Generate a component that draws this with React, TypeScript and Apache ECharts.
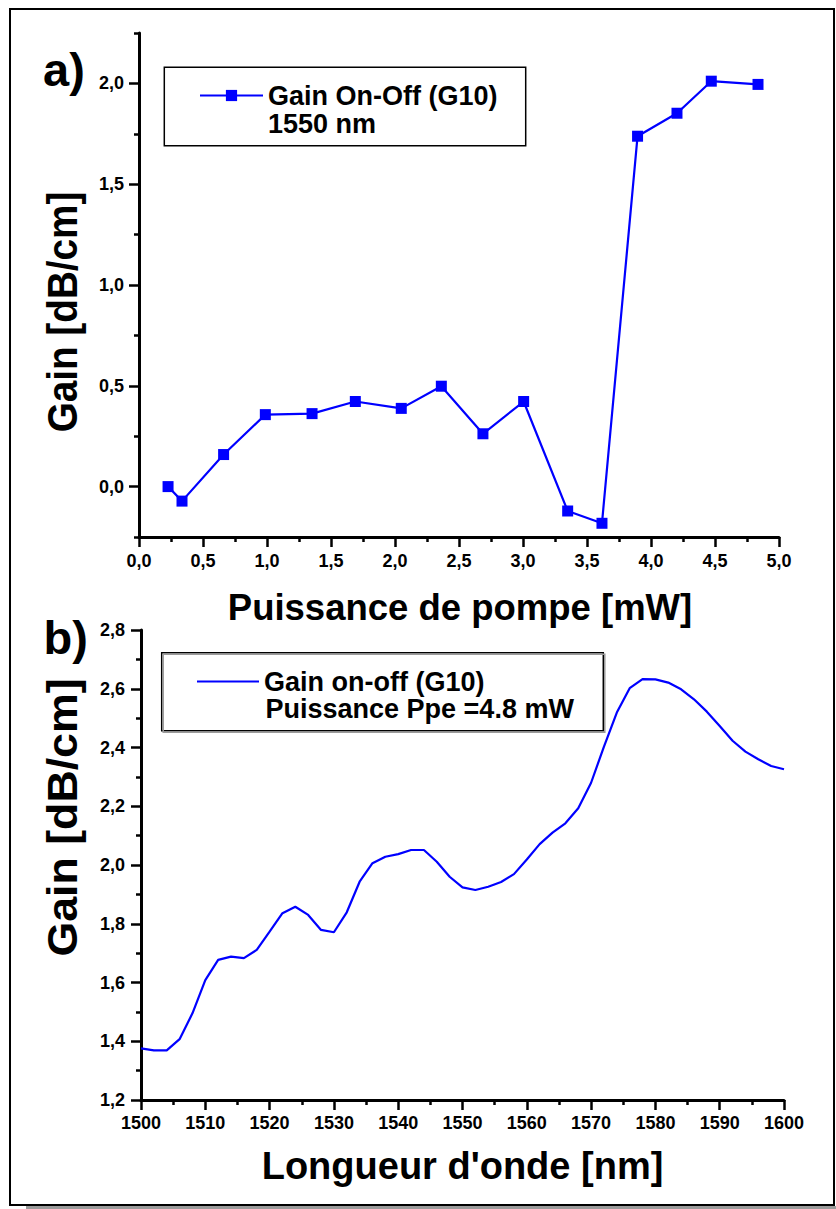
import React, { useEffect, useRef } from 'react';
import * as echarts from 'echarts';

// Panel a) : gain vs pump power
const pumpPower = [0.227, 0.336, 0.661, 0.987, 1.352, 1.690, 2.049, 2.362, 2.687, 3.005, 3.349, 3.617, 3.895, 4.203, 4.471, 4.836];
const gainOnOff = [0.0, -0.072, 0.159, 0.357, 0.362, 0.422, 0.388, 0.498, 0.262, 0.422, -0.121, -0.182, 1.738, 1.852, 2.011, 1.995];

// Panel b) : gain spectrum
const wavelength = [1500, 1502, 1504, 1506, 1508, 1510, 1512, 1514, 1516, 1518, 1520, 1522, 1524, 1526, 1528, 1530, 1532, 1534, 1536, 1538, 1540, 1542, 1544, 1546, 1548, 1550, 1552, 1554, 1556, 1558, 1560, 1562, 1564, 1566, 1568, 1570, 1572, 1574, 1576, 1578, 1580, 1582, 1584, 1586, 1588, 1590, 1592, 1594, 1596, 1598, 1600];
const gainSpectrum = [1.376, 1.369, 1.369, 1.407, 1.495, 1.608, 1.677, 1.688, 1.683, 1.711, 1.773, 1.836, 1.858, 1.830, 1.779, 1.771, 1.839, 1.943, 2.006, 2.028, 2.037, 2.051, 2.051, 2.011, 1.960, 1.924, 1.915, 1.926, 1.942, 1.969, 2.019, 2.071, 2.110, 2.142, 2.193, 2.280, 2.403, 2.519, 2.602, 2.633, 2.632, 2.621, 2.598, 2.564, 2.522, 2.473, 2.423, 2.386, 2.360, 2.337, 2.326];

// Tick values
const yMajorA = [0, 0.5, 1.0, 1.5, 2.0];
const yMinorA = [-0.25, 0.25, 0.75, 1.25, 1.75, 2.25];

const seriesNameA = 'Gain On-Off (G10)';
const seriesNameB = 'Gain on-off (G10)';
const legendLine2A = '1550 nm';
const legendLine2B = 'Puissance Ppe =4.8 mW';
const xTitleA = 'Puissance de pompe [mW]';
const xTitleB = "Longueur d'onde [nm]";
const yTitle = 'Gain [dB/cm]';

const FONT = '"Liberation Sans", Arial, Helvetica, sans-serif';
const BLUE = '#0000ff';
const fmt = (v: number) => v.toFixed(1).replace('.', ',');

export default function App() {
  const ref = useRef<HTMLDivElement>(null);

  useEffect(() => {
    const chart = echarts.init(ref.current!, null, { renderer: 'svg' });
    const axisLine = { onZero: false, lineStyle: { color: '#000', width: 3 } };
    const majorTick = { inside: false, length: 10, lineStyle: { color: '#000', width: 2.5 } };
    const minorTick = { show: true, splitNumber: 2, length: 5, lineStyle: { color: '#000', width: 2.5 } };
    const label = { color: '#000', fontFamily: FONT, fontWeight: 'bold' as const, fontSize: 18 };

    const txt = (text: string, x: number, y: number, size: number, align = 'left', extra: any = {}) => ({
      type: 'text',
      x,
      y,
      ...extra,
      style: {
        text,
        fill: '#000',
        fontFamily: FONT,
        fontWeight: 'bold',
        fontSize: size,
        textAlign: align,
        textVerticalAlign: 'middle',
      },
    });

    chart.setOption({
      animation: false,
      backgroundColor: '#ffffff',
      grid: [
        { left: 139, top: 33, width: 640, height: 504 },
        { left: 141, top: 630, width: 643, height: 470 },
      ],
      xAxis: [
        {
          type: 'value', gridIndex: 0, min: 0, max: 5, interval: 0.5,
          axisLine, axisTick: majorTick, minorTick,
          splitLine: { show: false }, minorSplitLine: { show: false },
          axisLabel: { ...label, margin: 15, formatter: fmt },
        },
        {
          type: 'value', gridIndex: 1, min: 1500, max: 1600, interval: 10,
          axisLine, axisTick: majorTick, minorTick,
          splitLine: { show: false }, minorSplitLine: { show: false },
          axisLabel: { ...label, margin: 14, formatter: (v: number) => String(v) },
        },
      ],
      yAxis: [
        {
          type: 'value', gridIndex: 0, min: -0.25, max: 2.25,
          axisLine,
          axisTick: { ...majorTick, customValues: yMajorA },
          splitLine: { show: false },
          axisLabel: { ...label, margin: 15, customValues: yMajorA, formatter: fmt },
        },
        {
          type: 'value', gridIndex: 0, min: -0.25, max: 2.25, position: 'left', offset: 0,
          axisLine: { show: false, onZero: false },
          axisTick: { show: true, length: 5, lineStyle: { color: '#000', width: 2.5 }, customValues: yMinorA },
          splitLine: { show: false },
          axisLabel: { show: false },
        },
        {
          type: 'value', gridIndex: 1, min: 1.2, max: 2.8, interval: 0.2,
          axisLine, axisTick: majorTick, minorTick,
          splitLine: { show: false }, minorSplitLine: { show: false },
          axisLabel: { ...label, margin: 16, formatter: fmt },
        },
      ],
      legend: [
        {
          data: [seriesNameA], left: 199, top: 82, padding: 0,
          itemWidth: 63, itemHeight: 14, selectedMode: false,
          textStyle: { color: '#000', fontFamily: FONT, fontWeight: 'bold', fontSize: 27 },
        },
        {
          data: [seriesNameB], left: 196, top: 668, padding: 0,
          itemWidth: 62, itemHeight: 14, selectedMode: false,
          itemStyle: { opacity: 0 },
          textStyle: { color: '#000', fontFamily: FONT, fontWeight: 'bold', fontSize: 27 },
        },
      ],
      series: [
        {
          name: seriesNameA, type: 'line', xAxisIndex: 0, yAxisIndex: 0,
          data: pumpPower.map((x, i) => [x, gainOnOff[i]]),
          symbol: 'rect', symbolSize: 11,
          lineStyle: { color: BLUE, width: 2.2 },
          itemStyle: { color: BLUE },
        },
        {
          name: seriesNameB, type: 'line', xAxisIndex: 1, yAxisIndex: 2,
          data: wavelength.map((x, i) => [x, gainSpectrum[i]]),
          symbol: 'none', showSymbol: false,
          lineStyle: { color: BLUE, width: 2.2 },
          itemStyle: { color: BLUE },
        },
      ],
      graphic: [
        { type: 'rect', z: 0, shape: { x: 26, y: 1206, width: 810, height: 3 }, style: { fill: '#9a9a9a' } },
        { type: 'rect', z: 1, shape: { x: 10, y: 9, width: 824, height: 1196 }, style: { fill: 'none', stroke: '#000', lineWidth: 2 } },
        { type: 'rect', shape: { x: 164.3, y: 67.3, width: 361.4, height: 78.4 }, style: { fill: 'none', stroke: '#000', lineWidth: 1.5 } },
        { type: 'rect', shape: { x: 163.2, y: 654.2, width: 441.6, height: 78 }, style: { fill: 'none', stroke: '#9a9a9a', lineWidth: 1.5 } },
        { type: 'rect', shape: { x: 161.7, y: 652.7, width: 441.6, height: 78 }, style: { fill: '#fff', stroke: '#000', lineWidth: 1.5 }, z: -1 },
        txt(legendLine2A, 268, 124, 27),
        txt(legendLine2B, 265.5, 709, 27),
        txt('a)', 43, 69, 47),
        txt('b)', 43.5, 637, 47),
        txt(yTitle, 62.5, 312, 43, 'center', { rotation: Math.PI / 2, scaleX: 0.9 }),
        txt(yTitle, 62, 817.5, 43, 'center', { rotation: Math.PI / 2, scaleX: 1.04 }),
        txt(xTitleA, 460, 607, 36.5, 'center'),
        txt(xTitleB, 462.5, 1166, 38, 'center'),
      ],
    });
    return () => chart.dispose();
  }, []);

  return (
    <div
      ref={ref}
      style={{ position: 'absolute', left: 0, top: 0, width: 836, height: 1209, background: '#fff' }}
    />
  );
}
